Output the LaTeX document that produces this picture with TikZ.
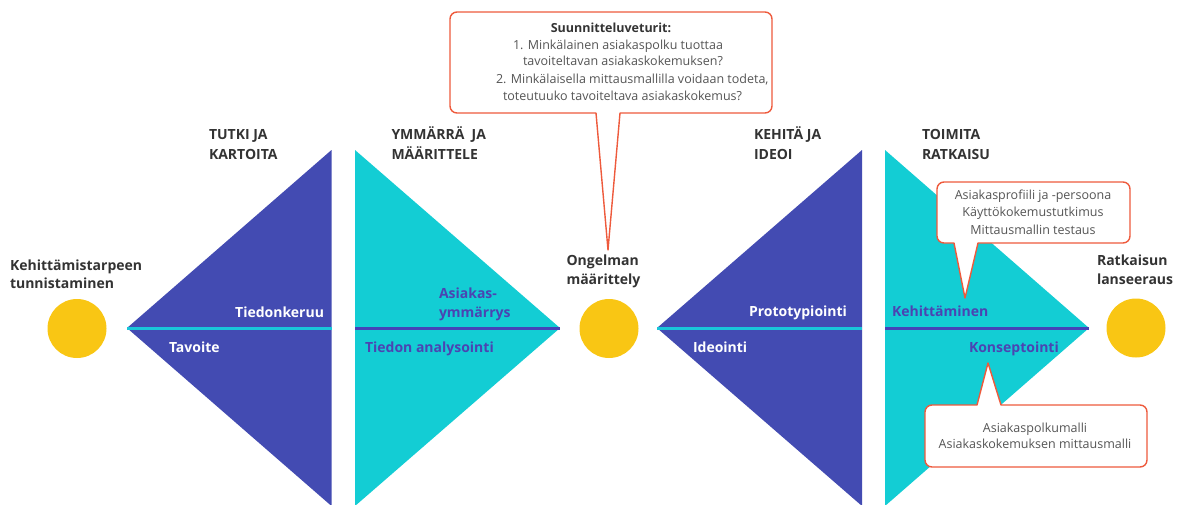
\documentclass[tikz,border=0pt]{standalone}
\usepackage{fontspec}
\setmainfont{Open Sans}
\definecolor{navy}{HTML}{434BB2}
\definecolor{aqua}{HTML}{13CDD4}
\definecolor{aqualine}{HTML}{19C6DA}
\definecolor{navyline}{HTML}{4543B8}
\definecolor{navytext}{HTML}{4B44B2}
\definecolor{sun}{HTML}{F9C614}
\definecolor{ink}{HTML}{333333}
\definecolor{soft}{HTML}{555555}
\definecolor{coral}{HTML}{EE5A3C}
\begin{document}
\begin{tikzpicture}[x=1pt,y=-1pt,
  every node/.style={inner sep=0pt,outer sep=0pt},
  bold/.style={font=\bfseries\fontsize{14}{17}\selectfont},
  head/.style={bold,anchor=base west,text=ink},
  wlabel/.style={bold,text=white},
  blabel/.style={bold,text=navytext},
  note/.style={font=\fontsize{12.5}{15}\selectfont,text=soft},
  notehead/.style={font=\bfseries\fontsize{12.5}{15}\selectfont,text=ink},
  dot/.style={circle,fill=sun,minimum size=59pt},
  callout/.style={draw=coral,line width=1.4pt,fill=white,line join=round}]
\clip (0,0) rectangle (1184,504);

% phase triangles
\fill[navy] (127,328) -- (331.5,150) -- (331.5,506) -- cycle;
\fill[aqua] (355,150) -- (560,328) -- (355,506) -- cycle;
\fill[navy] (657,328) -- (862,150) -- (862,506) -- cycle;
\fill[aqua] (885,150) -- (1089,328) -- (885,506) -- cycle;

% dividing lines
\draw[aqualine,line width=3pt] (127,328) -- (331.5,328);
\draw[navyline,line width=3pt] (355,328) -- (560,328);
\draw[aqualine,line width=3pt] (657,328) -- (862,328);
\draw[navyline,line width=3pt] (885,328) -- (1089,328);

% milestones
\node[dot] (c1) at (77,328.5) {};
\node[dot] (c2) at (609,328.5) {};
\node[dot] (c3) at (1136,328) {};

% milestone captions
\node[head] (m1a) at (10,270) {Kehittämistarpeen};
\node[head] (m1b) at (10,288) {tunnistaminen};
\node[head] (m2a) at (566.5,265) {Ongelman};
\node[head] (m2b) at (566.5,284) {määrittely};
\node[head] (m3a) at (1097,265) {Ratkaisun};
\node[head] (m3b) at (1097,284.5) {lanseeraus};

% phase titles
\node[head] (p1a) at (209,139) {TUTKI JA};
\node[head] (p1b) at (209,159) {KARTOITA};
\node[head] (p2a) at (391.5,139) {YMMÄRRÄ\ \ JA};
\node[head] (p2b) at (391.5,159) {MÄÄRITTELE};
\node[head] (p3a) at (754,139) {KEHITÄ JA};
\node[head] (p3b) at (754,159) {IDEOI};
\node[head] (p4a) at (922,139) {TOIMITA};
\node[head] (p4b) at (922,159) {RATKAISU};

% labels inside the triangles
\node[wlabel,anchor=base east] (l1) at (324,317) {Tiedonkeruu};
\node[wlabel,anchor=base west] (l2) at (169,352) {Tavoite};
\node[blabel,anchor=base west] (l3) at (439,298) {Asiakas-};
\node[blabel,anchor=base west] (l4) at (439,317) {ymmärrys};
\node[blabel,anchor=base west] (l5) at (365,352) {Tiedon analysointi};
\node[wlabel,anchor=base east] (l6) at (847,316) {Prototypiointi};
\node[wlabel,anchor=base west] (l7) at (693,352) {Ideointi};
\node[blabel,anchor=base west] (l8) at (892,316.5) {Kehittäminen};
\node[blabel,anchor=base west] (l9) at (969,352) {Konseptointi};

% design drivers callout
\draw[callout] (650,113) -- (620,113) -- (608,250) -- (596,113) -- (560,113)
  [rounded corners=7pt] -- (450,113) -- (450,12) -- (772,12) -- (772,113) -- cycle;
\node[notehead,anchor=base] (q0) at (611,32) {Suunnitteluveturit:};
\node[note,anchor=base west] (q1) at (513,49.3) {1. Minkälainen asiakaspolku tuottaa};
\node[note,anchor=base west] (q2) at (523,65.5) {tavoiteltavan asiakaskokemuksen?};
\node[note,anchor=base west] (q3) at (496,83.3) {2. Minkälaisella mittausmallilla voidaan todeta,};
\node[note,anchor=base west] (q4) at (503,100.7) {toteutuuko tavoiteltava asiakaskokemus?};

% development methods callout
\draw[callout] (1000,243) -- (978,243) -- (965,298) -- (954,243) -- (946,243)
  [rounded corners=7pt] -- (937,243) -- (937,182) -- (1130,182) -- (1130,243) -- cycle;
\node[note,anchor=base] (d1) at (1033,199.3) {Asiakasprofiili ja -persoona};
\node[note,anchor=base] (d2) at (1033,216.7) {Käyttökokemustutkimus};
\node[note,anchor=base] (d3) at (1033,234) {Mittausmallin testaus};

% concept outputs callout
\draw[callout] (960,405) -- (977,405) -- (988,363) -- (1001,405) -- (1020,405)
  [rounded corners=7pt] -- (1147,405) -- (1147,467) -- (925,467) -- (925,405) -- cycle;
\node[note,anchor=base] (k1) at (1035,432.3) {Asiakaspolkumalli};
\node[note,anchor=base] (k2) at (1035,448.3) {Asiakaskokemuksen mittausmalli};
\end{tikzpicture}
\end{document}
